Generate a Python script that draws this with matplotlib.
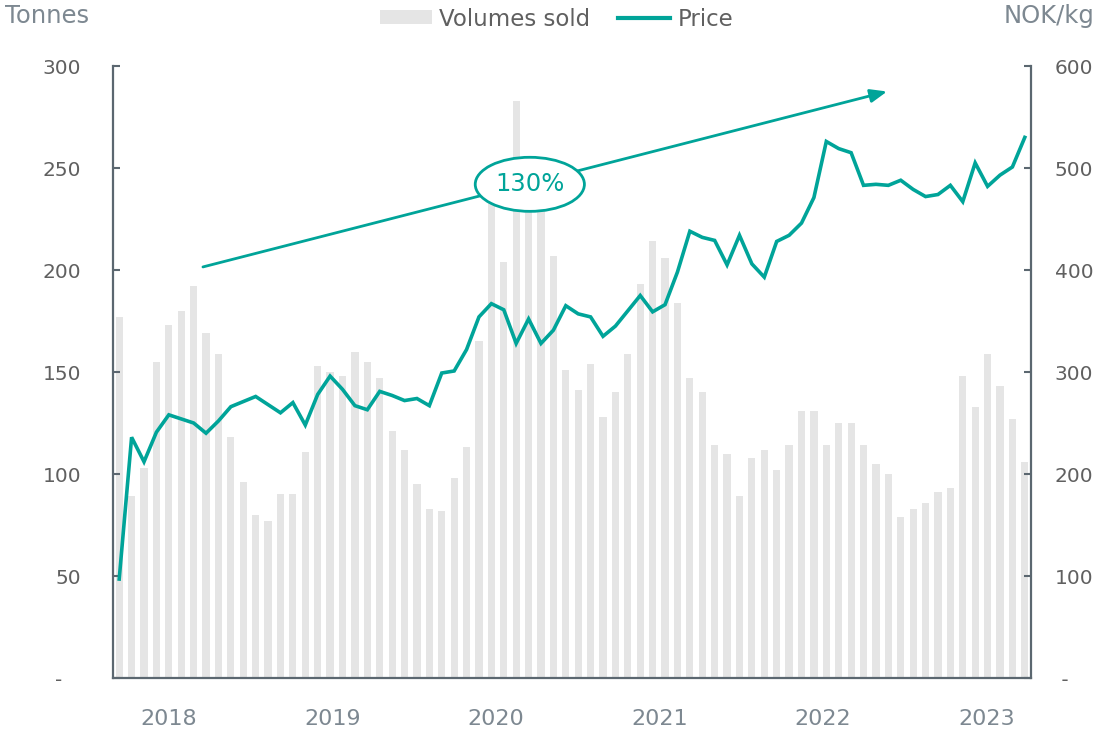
import matplotlib
matplotlib.use("Agg")
import matplotlib.pyplot as plt
from matplotlib.patches import Ellipse, Patch
from matplotlib.lines import Line2D
import numpy as np

# 4-weekly periods, 13 per year, from late 2017 to spring 2023
VOLUMES = [177, 89, 103, 155, 173, 180, 192, 169, 159, 118, 96, 80, 77, 90, 90, 111,
           153, 150, 148, 160, 155, 147, 121, 112, 95, 83, 82, 98, 113, 165, 240, 204,
           283, 235, 230, 207, 151, 141, 154, 128, 140, 159, 193, 214, 206, 184, 147, 140,
           114, 110, 89, 108, 112, 102, 114, 131, 131, 114, 125, 125, 114, 105, 100, 79,
           83, 86, 91, 93, 148, 133, 159, 143, 127, 106]
PRICE = [97, 236, 212, 241, 258, 254, 250, 240, 252, 266, 271, 276, 268, 260, 270, 248,
         278, 296, 283, 267, 263, 281, 277, 272, 274, 267, 299, 301, 322, 354, 367, 361,
         328, 352, 328, 341, 365, 357, 354, 335, 345, 360, 375, 359, 366, 398, 438, 432,
         429, 405, 434, 406, 393, 428, 434, 446, 471, 526, 519, 515, 483, 484, 483, 488,
         479, 472, 474, 483, 467, 505, 482, 493, 501, 530]
YEARS = ["2018", "2019", "2020", "2021", "2022", "2023"]
LEFT_TICKS = [0, 50, 100, 150, 200, 250, 300]
RIGHT_TICKS = [0, 100, 200, 300, 400, 500, 600]

TEAL = "#00a499"
BAR = "#e5e5e5"
SPINE = "#5b6770"
TXT = "#606060"
LIGHT = "#7d8891"

fig = plt.figure(figsize=(11.06, 7.35), dpi=100)
ax = fig.add_axes([113 / 1106, 1 - 678 / 735, 918 / 1106, 612 / 735])
ax2 = ax.twinx()

x = np.arange(len(VOLUMES))
ax.bar(x, VOLUMES, width=0.58, color=BAR, zorder=1)
ax2.plot(x, PRICE, color=TEAL, lw=2.6, solid_joinstyle="miter", zorder=3)

ax.set_xlim(-0.5, len(VOLUMES) - 0.5)
ax.set_ylim(0, 300)
ax2.set_ylim(0, 600)

ax.set_yticks(LEFT_TICKS)
ax.set_yticklabels(["-   " if v == 0 else str(v) for v in LEFT_TICKS])
ax2.set_yticks(RIGHT_TICKS)
ax2.set_yticklabels([" -" if v == 0 else str(v) for v in RIGHT_TICKS])

# year labels roughly every 13 periods
ax.set_xticks([4.0 + 13.18 * k for k in range(len(YEARS))])
ax.set_xticklabels(YEARS)

for a in (ax, ax2):
    a.spines["top"].set_visible(False)
    for s in ("left", "right", "bottom"):
        a.spines[s].set_color(SPINE)
        a.spines[s].set_linewidth(1.6)
ax.spines["right"].set_visible(False)
ax2.spines["left"].set_visible(False)
ax2.spines["bottom"].set_visible(False)

ax.tick_params(axis="y", direction="in", length=5, width=1.5, color=SPINE,
               labelsize=14.5, labelcolor=TXT, pad=23)
ax2.tick_params(axis="y", direction="in", length=5, width=1.5, color=SPINE,
                labelsize=14.5, labelcolor=TXT, pad=17)
ax.tick_params(axis="x", length=0, labelsize=16, labelcolor=LIGHT, pad=22)

# growth arrow + 130% bubble
ax.annotate("", xy=(61.9, 287.5), xytext=(6.75, 201.5),
            arrowprops=dict(arrowstyle="-|>,head_length=1.0,head_width=0.4",
                            color=TEAL, lw=2, shrinkA=0, shrinkB=0), zorder=4)
ax.add_patch(Ellipse((33.1, 242), 8.8, 26.5, facecolor="white", edgecolor=TEAL,
                     lw=2, zorder=5))
ax.text(33.1, 242, "130%", color=TEAL, fontsize=17.5, ha="center", va="center", zorder=6)

fig.text(5 / 1106, 1 - 16 / 735, "Tonnes", fontsize=17.5, color=LIGHT, ha="left", va="center")
fig.text(1095 / 1106, 1 - 16 / 735, "NOK/kg", fontsize=17.5, color=LIGHT, ha="right", va="center")

handles = [Patch(facecolor=BAR, edgecolor="none"), Line2D([0], [0], color=TEAL, lw=3)]
fig.legend(handles, ["Volumes sold", "Price"], loc="center", bbox_to_anchor=(0.503, 1 - 19 / 735),
           ncol=2, frameon=False, fontsize=16.5, labelcolor=TXT, handlelength=2.3,
           handleheight=0.55, handletextpad=0.3, columnspacing=1.2)

fig.savefig("out.png", dpi=100)
